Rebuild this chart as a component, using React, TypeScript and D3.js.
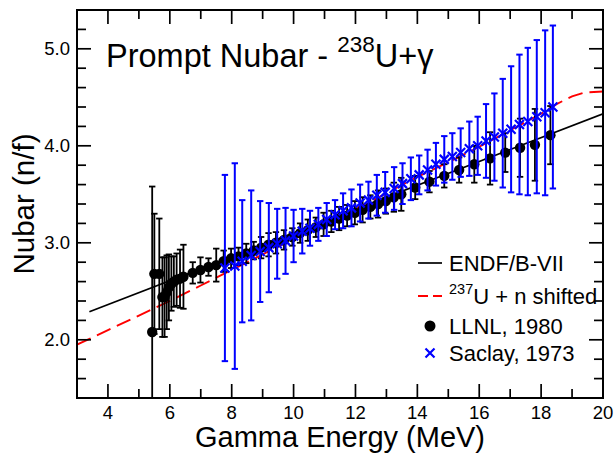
import React from "react";
import * as d3 from "d3";

const W = 614;
const H = 456;
const M = { left: 77, right: 603, top: 10, bottom: 398 };

const xDomain: [number, number] = [3, 20];
const yDomain: [number, number] = [1.4, 5.4];
const xMajorTicks = [4, 6, 8, 10, 12, 14, 16, 18, 20];
const xMinorTicks = [3, 5, 7, 9, 11, 13, 15, 17, 19];
const yMajorTicks = [2, 3, 4, 5];
const yMinorTicks = [1.6, 1.8, 2.2, 2.4, 2.6, 2.8, 3.2, 3.4, 3.6, 3.8, 4.2, 4.4, 4.6, 4.8, 5.2];

// ENDF/B-VII evaluation (E MeV, nubar)
const endfCurve: [number, number][] = [
  [3.4, 2.29],
  [20, 4.33],
];

// 237U + n shifted
const shiftedCurve: [number, number][] = [
  [3, 1.95], [4, 2.1], [5, 2.25], [6, 2.4], [7, 2.56], [8, 2.72], [9, 2.88],
  [10, 3.04], [11, 3.19], [12, 3.35], [13, 3.51], [14, 3.68], [15, 3.83],
  [16, 3.99], [17, 4.16], [18, 4.33], [18.5, 4.43], [19, 4.51], [19.4, 4.55], [20, 4.56],
];

// LLNL, 1980: [E, nubar, error]
const llnl: [number, number, number][] = [
  [5.43, 2.08, 1.5], [5.5, 2.68, 0.62], [5.66, 2.68, 0.57], [5.76, 2.44, 0.41],
  [5.83, 2.44, 0.41], [5.9, 2.49, 0.38], [5.97, 2.54, 0.34], [6.05, 2.58, 0.28],
  [6.13, 2.6, 0.26], [6.22, 2.62, 0.27], [6.33, 2.63, 0.3], [6.44, 2.65, 0.33],
  [6.74, 2.69, 0.11], [6.99, 2.72, 0.13], [7.25, 2.75, 0.09], [7.5, 2.77, 0.17],
  [7.74, 2.81, 0.11], [7.98, 2.84, 0.1], [8.22, 2.86, 0.09], [8.47, 2.89, 0.1],
  [8.71, 2.92, 0.09], [8.95, 2.95, 0.11], [9.19, 2.98, 0.12], [9.43, 3.0, 0.11],
  [9.69, 3.03, 0.1], [9.96, 3.06, 0.09], [10.21, 3.1, 0.1], [10.46, 3.13, 0.11],
  [10.72, 3.16, 0.1], [10.97, 3.19, 0.12], [11.22, 3.22, 0.11], [11.47, 3.25, 0.12],
  [11.73, 3.28, 0.11], [11.98, 3.31, 0.12], [12.23, 3.34, 0.13], [12.48, 3.37, 0.12],
  [12.73, 3.4, 0.14], [12.98, 3.43, 0.13], [13.24, 3.47, 0.15], [13.48, 3.5, 0.17],
  [13.93, 3.57, 0.12], [14.39, 3.63, 0.11], [14.87, 3.69, 0.12], [15.35, 3.75, 0.13],
  [15.84, 3.81, 0.19], [16.35, 3.87, 0.27], [16.84, 3.93, 0.2], [17.32, 3.98, 0.3],
  [17.8, 4.01, 0.37], [18.3, 4.11, 0.3],
];

// Saclay, 1973: [E, nubar, error]
const saclay: [number, number, number][] = [
  [7.78, 2.74, 0.96], [8.1, 2.76, 1.06], [8.34, 2.81, 0.63], [8.63, 2.87, 0.67],
  [8.92, 2.91, 0.52], [9.2, 2.95, 0.46], [9.47, 2.99, 0.36], [9.74, 3.02, 0.34],
  [10.0, 3.07, 0.27], [10.28, 3.12, 0.23], [10.53, 3.15, 0.18], [10.8, 3.19, 0.17],
  [11.07, 3.24, 0.17], [11.34, 3.29, 0.15], [11.6, 3.33, 0.18], [11.87, 3.36, 0.19],
  [12.15, 3.41, 0.19], [12.42, 3.44, 0.19], [12.69, 3.49, 0.21], [12.96, 3.52, 0.21],
  [13.25, 3.56, 0.22], [13.52, 3.61, 0.21], [13.79, 3.66, 0.22], [14.06, 3.7, 0.2],
  [14.33, 3.75, 0.21], [14.6, 3.81, 0.22], [14.87, 3.86, 0.24], [15.13, 3.89, 0.24],
  [15.4, 3.93, 0.25], [15.68, 3.97, 0.28], [15.95, 4.0, 0.3], [16.22, 4.05, 0.38],
  [16.49, 4.09, 0.45], [16.76, 4.13, 0.56], [17.03, 4.17, 0.65], [17.3, 4.22, 0.72],
  [17.57, 4.25, 0.76], [17.86, 4.3, 0.79], [18.13, 4.34, 0.85], [18.38, 4.4, 0.84],
];

const FONT = "'Liberation Sans', Arial, Helvetica, sans-serif";

export default function App() {
  const x = d3.scaleLinear().domain(xDomain).range([M.left, M.right]);
  const y = d3.scaleLinear().domain(yDomain).range([M.bottom, M.top]);
  const line = d3
    .line<[number, number]>()
    .x((d) => x(d[0]))
    .y((d) => y(d[1]));

  const majorLen = 14;
  const minorLen = 9;
  const cap = 3.2;

  const xCross = (cx: number, cy: number, s: number) =>
    `M${cx - s},${cy - s}L${cx + s},${cy + s}M${cx - s},${cy + s}L${cx + s},${cy - s}`;

  const legX0 = 418;
  const legX1 = 442;
  const legXm = 430;
  const legText = 449;

  return (
    <svg
      width={W}
      height={H}
      style={{ position: "absolute", left: 0, top: 0, background: "#fff" }}
      fontFamily={FONT}
    >
      <defs>
        <clipPath id="plotClip">
          <rect x={M.left} y={M.top} width={M.right - M.left} height={M.bottom - M.top} />
        </clipPath>
      </defs>
      <rect x={0} y={0} width={W} height={H} fill="#fff" />

      <g clipPath="url(#plotClip)">
        <path d={line(endfCurve) || ""} fill="none" stroke="#000" strokeWidth={1.7} />
        <path
          d={line(shiftedCurve) || ""}
          fill="none"
          stroke="#ff0000"
          strokeWidth={1.9}
          strokeDasharray="15 7"
        />
        {llnl.map(([e, v, err], i) => (
          <g key={"l" + i}>
            <line x1={x(e)} x2={x(e)} y1={y(v - err)} y2={y(v + err)} stroke="#000" strokeWidth={1.8} />
            <line x1={x(e) - cap} x2={x(e) + cap} y1={y(v + err)} y2={y(v + err)} stroke="#000" strokeWidth={1.8} />
            <line x1={x(e) - cap} x2={x(e) + cap} y1={y(v - err)} y2={y(v - err)} stroke="#000" strokeWidth={1.8} />
          </g>
        ))}
        {llnl.map(([e, v], i) => (
          <circle key={"lc" + i} cx={x(e)} cy={y(v)} r={5.2} fill="#000" />
        ))}
        {saclay.map(([e, v, err], i) => (
          <g key={"s" + i}>
            <line x1={x(e)} x2={x(e)} y1={y(v - err)} y2={y(v + err)} stroke="#0000ff" strokeWidth={2} />
            <line x1={x(e) - cap} x2={x(e) + cap} y1={y(v + err)} y2={y(v + err)} stroke="#0000ff" strokeWidth={2} />
            <line x1={x(e) - cap} x2={x(e) + cap} y1={y(v - err)} y2={y(v - err)} stroke="#0000ff" strokeWidth={2} />
            <path d={xCross(x(e), y(v), 4.5)} stroke="#0000ff" strokeWidth={2.2} fill="none" />
          </g>
        ))}
      </g>

      {/* frame */}
      <rect
        x={M.left}
        y={M.top}
        width={M.right - M.left}
        height={M.bottom - M.top}
        fill="none"
        stroke="#000"
        strokeWidth={2}
      />

      {/* x ticks */}
      {xMajorTicks.map((t) => (
        <g key={"xm" + t}>
          <line x1={x(t)} x2={x(t)} y1={M.bottom} y2={M.bottom - majorLen} stroke="#000" strokeWidth={1.7} />
          <line x1={x(t)} x2={x(t)} y1={M.top} y2={M.top + majorLen} stroke="#000" strokeWidth={1.7} />
          <text x={x(t)} y={M.bottom + 21} fontSize={18.5} textAnchor="middle" fill="#000">
            {t}
          </text>
        </g>
      ))}
      {xMinorTicks.map((t) => (
        <g key={"xn" + t}>
          <line x1={x(t)} x2={x(t)} y1={M.bottom} y2={M.bottom - minorLen} stroke="#000" strokeWidth={1.7} />
          <line x1={x(t)} x2={x(t)} y1={M.top} y2={M.top + minorLen} stroke="#000" strokeWidth={1.7} />
        </g>
      ))}

      {/* y ticks */}
      {yMajorTicks.map((t) => (
        <g key={"ym" + t}>
          <line x1={M.left} x2={M.left + majorLen} y1={y(t)} y2={y(t)} stroke="#000" strokeWidth={1.7} />
          <line x1={M.right} x2={M.right - majorLen} y1={y(t)} y2={y(t)} stroke="#000" strokeWidth={1.7} />
          <text x={M.left - 7} y={y(t) + 6.5} fontSize={18.5} textAnchor="end" fill="#000">
            {d3.format(".1f")(t)}
          </text>
        </g>
      ))}
      {yMinorTicks.map((t) => (
        <g key={"yn" + t}>
          <line x1={M.left} x2={M.left + minorLen} y1={y(t)} y2={y(t)} stroke="#000" strokeWidth={1.7} />
          <line x1={M.right} x2={M.right - minorLen} y1={y(t)} y2={y(t)} stroke="#000" strokeWidth={1.7} />
        </g>
      ))}

      {/* axis titles */}
      <text x={(M.left + M.right) / 2} y={447} fontSize={29} textAnchor="middle" fill="#000">
        Gamma Energy (MeV)
      </text>
      <text
        transform={`translate(34, ${(M.top + M.bottom) / 2}) rotate(-90)`}
        fontSize={29.5}
        textAnchor="middle"
        fill="#000"
      >
        Nubar (n/f)
      </text>

      {/* title */}
      <text x={106} y={67} fontSize={32.5} fill="#000">
        {"Prompt Nubar - "}
        <tspan fontSize={22.5} dy={-15}>
          238
        </tspan>
        <tspan dy={15}>U+γ</tspan>
      </text>

      {/* legend */}
      <line x1={legX0} x2={legX1} y1={263} y2={263} stroke="#000" strokeWidth={1.7} />
      <text x={legText} y={271} fontSize={22} fill="#000">
        ENDF/B-VII
      </text>
      <line
        x1={legX0}
        x2={legX1}
        y1={296}
        y2={296}
        stroke="#ff0000"
        strokeWidth={1.9}
        strokeDasharray="10 5"
      />
      <text x={legText} y={304} fontSize={22} fill="#000">
        <tspan fontSize={14.5} dy={-10}>
          237
        </tspan>
        <tspan dy={10}>U + n shifted</tspan>
      </text>
      <circle cx={legXm} cy={326} r={5.5} fill="#000" />
      <text x={legText} y={334} fontSize={22} fill="#000">
        LLNL, 1980
      </text>
      <path d={xCross(legXm, 353, 4.5)} stroke="#0000ff" strokeWidth={2.2} fill="none" />
      <text x={legText} y={361} fontSize={22} fill="#000">
        Saclay, 1973
      </text>
    </svg>
  );
}
